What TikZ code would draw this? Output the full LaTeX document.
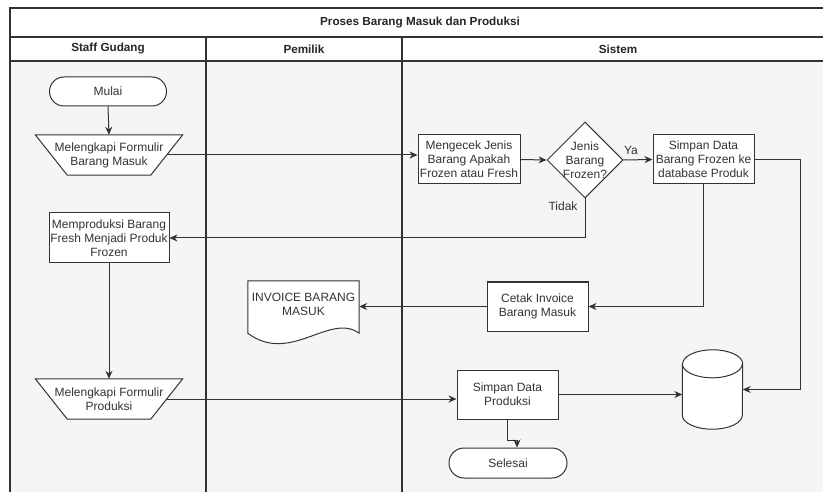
\documentclass[tikz,border=0pt]{standalone}
\usepackage{fontspec}
\setmainfont{Liberation Sans}
\usetikzlibrary{arrows.meta,shapes.geometric}
\definecolor{ln}{HTML}{333333}
\definecolor{tx}{HTML}{333333}
\definecolor{bg}{HTML}{F5F5F5}
\tikzset{
  frame/.style={draw=ln,line width=1.1pt},
  box/.style={draw=ln,line width=1pt,fill=white},
  proc/.style={box,rectangle,minimum width=101pt,minimum height=49pt,inner sep=0pt,
    align=center,font=\fontsize{12pt}{14pt}\selectfont,text=tx},
  term/.style={box,rounded corners=14.5pt,minimum width=117pt,minimum height=29pt,inner sep=0pt,
    font=\fontsize{12pt}{14pt}\selectfont,text=tx},
  txt/.style={inner sep=0pt,align=center,font=\fontsize{12pt}{14pt}\selectfont,text=tx},
  ghost/.style={draw=none,inner sep=0pt,rectangle},
  hdr/.style={inner sep=0pt,font=\bfseries\fontsize{11.7pt}{14pt}\selectfont,text=black!85},
  arr/.style={draw=ln,line width=1pt,-{Stealth[length=8pt,width=7pt]}},
}
\begin{document}
\begin{tikzpicture}[x=1pt,y=-1pt]
\useasboundingbox (0,0) rectangle (823,492);
\fill[white] (0,0) rectangle (823,492);
% swimlane frame
\fill[bg] (10,61) rectangle (840,500);
\draw[frame] (10,500) -- (10,8) -- (840,8);
\draw[frame] (10,37) -- (840,37);
\draw[frame] (10,61) -- (840,61);
\draw[frame] (206,37) -- (206,500);
\draw[frame] (402,37) -- (402,500);
\node[hdr] (title) at (420,23) {Proses Barang Masuk dan Produksi};
\node[hdr] (h1) at (108,49) {Staff Gudang};
\node[hdr] (h2) at (304,49) {Pemilik};
\node[hdr] (h3) at (618,49) {Sistem};

% Staff Gudang
\node[term] (mulai) at (108,91.5) {Mulai};
\node[ghost,minimum width=115pt,minimum height=40pt] (t1) at (109,155) {};
\draw[box] ([xshift=-16pt]t1.north west) -- ([xshift=16pt]t1.north east) -- ([xshift=-16pt]t1.south east) -- ([xshift=16pt]t1.south west) -- cycle;
\node[txt] (t1t) at (109,155) {Melengkapi Formulir\\Barang Masuk};
\node[proc,minimum width=120pt,minimum height=50pt] (mp) at (109,238) {Memproduksi Barang\\Fresh Menjadi Produk\\Frozen};
\node[ghost,minimum width=115pt,minimum height=40pt] (t2) at (109,399) {};
\draw[box] ([xshift=-16pt]t2.north west) -- ([xshift=16pt]t2.north east) -- ([xshift=-16pt]t2.south east) -- ([xshift=16pt]t2.south west) -- cycle;
\node[txt] (t2t) at (109,399) {Melengkapi Formulir\\Produksi};

% Pemilik
\node[ghost,minimum width=111pt,minimum height=52pt] (inv) at (303.5,307) {};
\draw[box] (inv.north west) -- (inv.north east) -- (inv.south east)
  .. controls (330,312) and (290,365) .. (inv.south west) -- cycle;
\node[txt] (invt) at (303.5,304) {INVOICE BARANG\\MASUK};

% Sistem
\node[proc,minimum width=102pt] (cek) at (469,159.5) {Mengecek Jenis\\Barang Apakah\\Frozen atau Fresh};
\node[box,diamond,minimum width=76pt,minimum height=76pt,inner sep=0pt] (dec) at (585,160) {};
\node[txt] (dect) at (585,160) {Jenis\\Barang\\Frozen?};
\node[proc] (sf) at (703.5,159.5) {Simpan Data\\Barang Frozen ke\\database Produk};
\node[proc] (ci) at (537.5,306.5) {Cetak Invoice\\Barang Masuk};
\node[proc] (sdp) at (507.5,394.5) {Simpan Data\\Produksi};
\node[term,minimum width=118pt,minimum height=30pt,rounded corners=15pt] (sl) at (508,463) {Selesai};
\node[ghost,minimum width=60pt,minimum height=79pt] (db) at (712.5,389.5) {};
\draw[box] ([yshift=-14pt]db.north west) -- ([yshift=14pt]db.south west)
  arc[start angle=180,end angle=360,x radius=30pt,y radius=14pt]
  -- ([yshift=-14pt]db.north east)
  arc[start angle=0,end angle=180,x radius=30pt,y radius=14pt] -- cycle;
\draw[draw=ln,line width=1pt] ([yshift=-14pt]db.north west)
  arc[start angle=180,end angle=360,x radius=30pt,y radius=14pt];

\node[txt] (ya) at (631,150) {Ya};
\node[txt] (tidak) at (563,206) {Tidak};
\coordinate (c1) at (800,159.5);
\coordinate (e1) at (507.5,440);
\coordinate (e2) at (517,440);

% connectors
\draw[arr] (mulai.south) -- (t1.north);
\draw[arr] (t1.east) -- (t1.east -| cek.west);
\draw[arr] (cek.east) -- (dec.west);
\draw[arr] (dec.east) -- (sf.west);
\draw[arr] (dec.south) |- (mp.east);
\draw[arr] (sf.south) |- (ci.east);
\draw[arr] (sf.east) -- (c1) |- (db.east);
\draw[arr] (ci.west) -- (ci.west -| inv.east);
\draw[arr] (mp.south) -- (t2.north);
\draw[arr] (t2.east) -- (t2.east -| sdp.west);
\draw[arr] (sdp.east) -- (sdp.east -| db.west);
\draw[arr] (sdp.south) -- (e1) -- (e2) -- (e2 |- sl.north);
\end{tikzpicture}
\end{document}
